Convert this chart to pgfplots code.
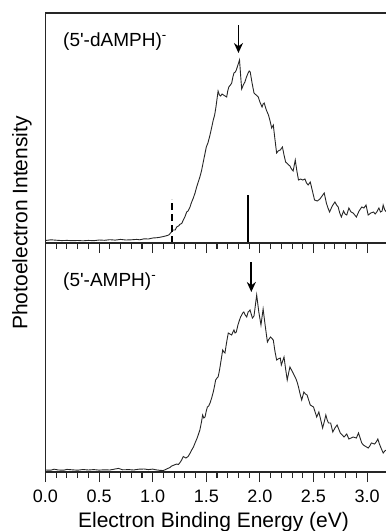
\documentclass[border=0pt]{standalone}
\usepackage{pgfplots}
\pgfplotsset{compat=1.18}
\usepackage{fontspec}
\setmainfont{Liberation Sans}
\usetikzlibrary{arrows.meta}

\pgfplotsset{
  panel/.style={
    scale only axis,
    width=343.04pt,
    xmin=0, xmax=3.2,
    ymin=0,
    xtick={0,0.5,...,3.0},
    minor x tick num=4,
    xtick pos=left,
    tick align=outside,
    major tick length=10pt,
    minor tick length=6pt,
    ytick=\empty,
    axis line style={line width=1.4pt, black!85},
    every tick/.style={line width=1.1pt, black!85},
    /pgf/number format/assume math mode=true,
    /pgf/number format/.cd, fixed, fixed zerofill, precision=1,
  },
  spec/.style={line width=0.9pt, black!85},
}

\begin{document}
\begin{tikzpicture}
% ---------------- top panel ----------------
\begin{axis}[panel, at={(0pt,0pt)}, anchor=north west, height=230pt, ymax=230,
  xticklabels={}]
\addplot[spec] coordinates {
(0.00,2.5) (0.05,3.2) (0.10,2.8) (0.15,2.4) (0.20,2.6) (0.25,2.3) (0.30,2.5)
(0.35,2.2) (0.40,2.6) (0.45,2.3) (0.50,3.0) (0.55,2.7) (0.60,3.3) (0.65,2.9)
(0.70,3.6) (0.75,3.0) (0.80,3.2) (0.85,3.6) (0.88,3.2) (0.92,4.2) (0.96,4.0)
(1.00,5.0) (1.04,5.3) (1.08,6.0) (1.12,7.0) (1.15,8.0) (1.177,11.3) (1.19,13)
(1.21,13) (1.224,16) (1.24,17) (1.255,18.7) (1.27,19.5) (1.286,23) (1.30,26)
(1.317,31) (1.33,32) (1.348,36) (1.36,40) (1.379,45) (1.395,50) (1.41,56)
(1.425,61) (1.44,66) (1.455,72) (1.47,80) (1.485,88) (1.50,96) (1.515,100)
(1.53,106) (1.545,113) (1.565,123) (1.578,128) (1.59,136) (1.60,144) (1.61,152)
(1.622,148) (1.634,147) (1.647,149) (1.66,148) (1.675,147) (1.69,146) (1.70,152)
(1.71,156) (1.725,158) (1.737,160) (1.748,166) (1.758,170) (1.77,171) (1.78,173)
(1.795,178) (1.81,183) (1.82,168) (1.83,154) (1.845,158) (1.86,161) (1.875,166)
(1.89,170) (1.90,172) (1.91,171) (1.927,160) (1.945,150) (1.965,148) (1.985,146)
(2.00,141) (2.02,136) (2.03,139) (2.04,140) (2.06,133) (2.08,128) (2.095,122)
(2.11,115) (2.125,118) (2.14,104) (2.156,90) (2.17,92) (2.19,93) (2.21,96)
(2.225,88) (2.24,81) (2.26,79) (2.28,77) (2.295,74) (2.31,72) (2.33,83)
(2.345,72) (2.36,63) (2.38,64) (2.40,63) (2.42,64) (2.435,60) (2.45,58)
(2.47,61) (2.49,52) (2.51,43) (2.535,42) (2.56,44) (2.58,47) (2.60,50)
(2.62,40) (2.635,35) (2.65,31) (2.675,37) (2.70,41) (2.715,38) (2.73,36)
(2.745,30) (2.76,26) (2.78,32) (2.795,29) (2.81,28) (2.83,35) (2.85,31)
(2.87,30) (2.885,28) (2.90,26) (2.925,32) (2.95,36) (2.97,35) (2.99,38)
(3.01,28) (3.035,30) (3.06,31) (3.075,29) (3.09,31) (3.11,35) (3.125,31)
(3.14,32) (3.15,38) (3.165,33) (3.18,31) (3.20,33)
};
\addplot[black, line width=1.8pt, dash pattern=on 7pt off 4pt] coordinates {(1.177,0) (1.177,44)};
\addplot[black, line width=2pt] coordinates {(1.886,0) (1.886,48)};
\draw[black, line width=1.8pt, -{Stealth[length=10pt,width=9pt]}] (axis cs:1.80,218) -- (axis cs:1.80,190);
\end{axis}
% ---------------- bottom panel ----------------
\begin{axis}[panel, at={(0pt,-230pt)}, anchor=north west, height=229pt, ymax=229,
  xticklabel style={font=\fontsize{18}{20}\selectfont, inner sep=0pt, anchor=north, yshift=-8pt}]
\addplot[spec] coordinates {
(0.00,2.0) (0.05,1.8) (0.08,2.8) (0.12,2.0) (0.17,1.8) (0.20,2.6) (0.25,2.2)
(0.30,1.8) (0.35,2.5) (0.40,2.0) (0.45,2.4) (0.50,1.9) (0.55,2.2) (0.60,2.0)
(0.65,3.0) (0.68,3.6) (0.72,2.2) (0.78,2.4) (0.82,2.0) (0.87,2.8) (0.92,3.0)
(0.96,2.4) (1.00,2.9) (1.03,2.2) (1.07,1.6) (1.10,1.5) (1.13,3.0) (1.16,4.5)
(1.177,6) (1.20,7) (1.224,8) (1.24,7.5) (1.255,9.5) (1.27,12) (1.285,15.5)
(1.31,14) (1.33,15.5) (1.35,19) (1.364,22) (1.38,25) (1.395,29) (1.415,34)
(1.44,42) (1.455,50) (1.466,57) (1.477,54) (1.488,55) (1.50,61) (1.51,65)
(1.522,66) (1.535,69) (1.55,74) (1.565,80) (1.577,86) (1.587,92) (1.60,94)
(1.61,95) (1.62,100) (1.628,105) (1.64,113) (1.653,122) (1.664,120) (1.674,119)
(1.69,130) (1.705,139) (1.72,138) (1.737,137) (1.748,140) (1.758,142) (1.768,139)
(1.78,140) (1.795,147) (1.81,152) (1.82,155) (1.83,157) (1.84,159) (1.85,160)
(1.863,157) (1.877,155) (1.89,160) (1.9,161) (1.908,162) (1.93,154) (1.945,156)
(1.97,177) (1.99,160) (2.01,147) (2.03,163) (2.05,146) (2.07,130) (2.085,133)
(2.10,135) (2.125,132) (2.14,121) (2.156,112) (2.17,113) (2.19,114) (2.20,107)
(2.225,115) (2.24,103) (2.255,92) (2.268,99) (2.28,105) (2.295,102) (2.31,99)
(2.337,93) (2.35,89) (2.36,85) (2.375,78) (2.39,72) (2.41,80) (2.425,78)
(2.44,77) (2.455,72) (2.47,67) (2.485,66) (2.50,65) (2.515,60) (2.53,55)
(2.55,60) (2.568,52) (2.585,44) (2.60,50) (2.615,57) (2.628,52) (2.64,49)
(2.66,49) (2.68,40) (2.70,44) (2.72,47) (2.735,43) (2.75,39) (2.768,37)
(2.785,35) (2.81,38) (2.83,33) (2.85,34) (2.87,35) (2.90,34) (2.92,39)
(2.935,34) (2.95,29) (2.965,27) (2.98,26) (3.01,24) (3.025,26) (3.04,29)
(3.07,28) (3.085,30) (3.10,33) (3.115,28) (3.13,24) (3.15,19) (3.165,21)
(3.18,22) (3.20,20)
};
\draw[black, line width=1.8pt, -{Stealth[length=10pt,width=9pt]}] (axis cs:1.92,210) -- (axis cs:1.92,180);
\end{axis}
% ---------------- text ----------------
\node[anchor=base west, inner sep=0pt, font=\fontsize{19}{22}\selectfont] at (17.5pt,-33pt) {(5\textquotesingle-dAMPH)\textsuperscript{-}};
\node[anchor=base west, inner sep=0pt, font=\fontsize{19}{22}\selectfont] at (17.5pt,-273pt) {(5\textquotesingle-AMPH)\textsuperscript{-}};
\node[anchor=base, inner sep=0pt, font=\fontsize{21}{24}\selectfont] at (168pt,-514pt) {Electron Binding Energy (eV)};
\node[rotate=90, inner sep=0pt, font=\fontsize{21}{24}\selectfont] at (-23.5pt,-210pt) {Photoelectron Intensity};
\pgfresetboundingbox
\path[use as bounding box] (-45.5pt,13pt) rectangle (340.5pt,-518pt);
\end{tikzpicture}
\end{document}
